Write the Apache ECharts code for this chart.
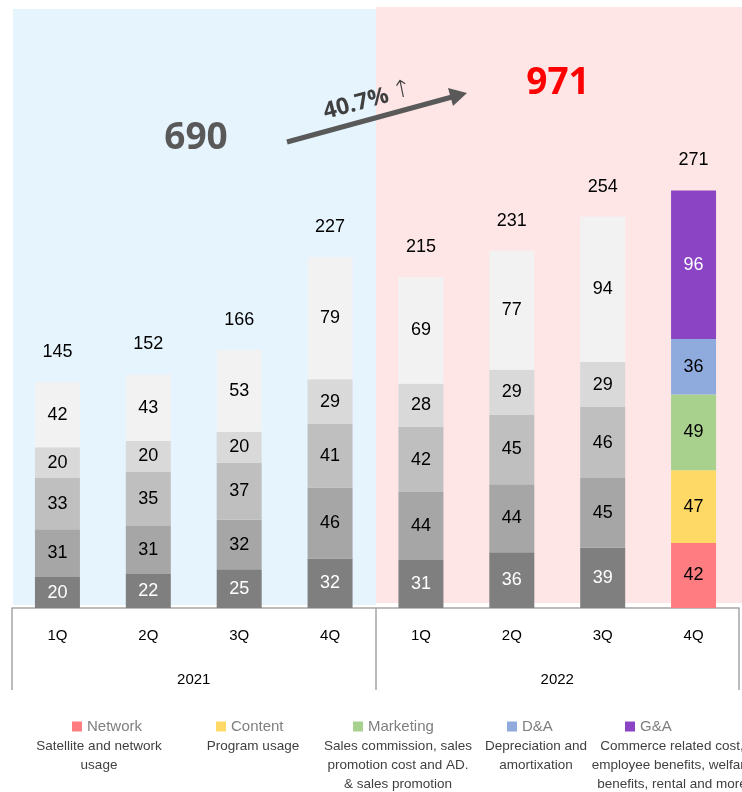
<!DOCTYPE html>
<html>
<head>
<meta charset="utf-8">
<script src="https://cdn.jsdelivr.net/npm/echarts@6/dist/echarts.min.js"></script>
<style>html,body{margin:0;padding:0;background:#fff;}#c{width:742px;height:792px;}</style>
</head>
<body>
<div id="c"></div>
<script>
var quarters = ['1Q','2Q','3Q','4Q','1Q','2Q','3Q','4Q'];
var years = ['2021','2022'];
var network   = [20,22,25,32,31,36,39,42];
var content   = [31,31,32,46,44,44,45,47];
var marketing = [33,35,37,41,42,45,46,49];
var dna       = [20,20,20,29,28,29,29,36];
var gna       = [42,43,53,79,69,77,94,96];
var totals    = [145,152,166,227,215,231,254,271];
var seriesNames = ['Network','Content','Marketing','D&A','G&A'];
var descriptions = [
  'Satellite and network\nusage',
  'Program usage',
  'Sales commission, sales\npromotion cost and AD.\n& sales promotion',
  'Depreciation and\namortixation',
  'Commerce related cost,\nemployee benefits, welfare\nbenefits, rental and more'
];
var yearTotals = ['690','971'];
var growthText = '40.7%';

var colored = ['#ff7c80','#ffd966','#a9d18e','#8faadc','#8b44c3'];
var grays   = ['#7f7f7f','#a6a6a6','#bfbfbf','#d9d9d9','#f2f2f2'];
var grayLabel = ['#fff','#000','#000','#000','#000'];
var colLabel  = ['#000','#000','#000','#000','#fff'];
var values = [network, content, marketing, dna, gna];
var FONT = '"Liberation Sans", Arial, sans-serif';

var series = values.map(function(arr, si){
  return {
    name: seriesNames[si], type: 'bar', stack: 't', barWidth: 45, z: 3,
    itemStyle: {color: colored[si]},
    label: {show: true, position: 'inside', fontSize: 18, fontFamily: FONT},
    data: arr.map(function(v, i){
      var last = i === arr.length - 1;
      return {
        value: v,
        itemStyle: {color: last ? colored[si] : grays[si]},
        label: {color: last ? colLabel[si] : grayLabel[si]}
      };
    })
  };
});
series.push({
  name: 'total', type: 'bar', stack: 't', barWidth: 45, z: 3,
  itemStyle: {color: 'transparent'},
  label: {show: true, position: 'top', distance: 21, fontSize: 18, color: '#000', fontFamily: FONT,
    formatter: function(p){ return totals[p.dataIndex]; }},
  data: totals.map(function(){ return 0; })
});

var legendLefts = [67, 211, 348, 502, 620];
var descCenters = [99, 253, 398, 536, 672];
var legends = seriesNames.map(function(n, i){
  return {
    data: [n], left: legendLefts[i], top: 714, itemWidth: 10, itemHeight: 10, icon: 'rect', itemGap: 5,
    textStyle: {fontSize: 15, color: '#7f7f7f', fontFamily: FONT}, selectedMode: false
  };
});

var graphics = [
  {type: 'rect', z: -10, shape: {x: 13, y: 9, width: 363, height: 596}, style: {fill: '#e6f4fe'}},
  {type: 'rect', z: -10, shape: {x: 376, y: 7, width: 366, height: 596}, style: {fill: '#ffe6e6'}},
  {type: 'text', x: 196, y: 138, style: {text: yearTotals[0], fontSize: 37, fontWeight: 'bold', fill: '#595959', align: 'center', verticalAlign: 'middle', fontFamily: '"Open Sans", sans-serif'}},
  {type: 'text', x: 558, y: 83, style: {text: yearTotals[1], fontSize: 37, fontWeight: 'bold', fill: '#ff0000', align: 'center', verticalAlign: 'middle', fontFamily: '"Open Sans", sans-serif'}},
  {type: 'line', shape: {x1: 287, y1: 142, x2: 452, y2: 97}, style: {stroke: '#595959', lineWidth: 5}},
  {type: 'polygon', shape: {points: [[467, 93],[448, 88],[453, 106]]}, style: {fill: '#595959'}},
  {type: 'text', x: 356, y: 104, rotation: 0.26, style: {text: growthText, fontSize: 23, fontWeight: 'bold', fill: '#404040', align: 'center', verticalAlign: 'middle', fontFamily: '"Open Sans", sans-serif'}},
  {type: 'text', x: 402, y: 91, rotation: 0.2, style: {text: '\u2191', fontSize: 24, fill: '#404040', align: 'center', verticalAlign: 'middle', fontFamily: '"DejaVu Sans", sans-serif', fontWeight: 'lighter'}}
];
descriptions.forEach(function(d, i){
  graphics.push({type: 'text', x: descCenters[i], y: 737, style: {text: d, fontSize: 13.5, lineHeight: 19, fill: '#404040', align: 'center', verticalAlign: 'top', fontFamily: FONT}});
});

var chart = echarts.init(document.getElementById('c'), null, {renderer: 'canvas'});
chart.setOption({
  animation: false,
  grid: {left: 12, right: 3, top: 8, bottom: 184, containLabel: false},
  legend: legends,
  xAxis: [
    {type: 'category', data: quarters, position: 'bottom',
      axisLine: {show: true, lineStyle: {color: '#a6a6a6', width: 1.5}},
      axisTick: {show: false},
      axisLabel: {margin: 20, fontSize: 15, color: '#000', fontFamily: FONT}},
    {type: 'category', data: years, position: 'bottom',
      axisLine: {show: false},
      axisTick: {show: true, length: 82, alignWithLabel: false, lineStyle: {color: '#a6a6a6', width: 1.5}},
      axisLabel: {margin: 64, fontSize: 15, color: '#000', fontFamily: FONT}}
  ],
  yAxis: {type: 'value', min: 0, max: 388, show: false, splitLine: {show: false}},
  graphic: graphics,
  series: series
});
</script>
</body>
</html>
